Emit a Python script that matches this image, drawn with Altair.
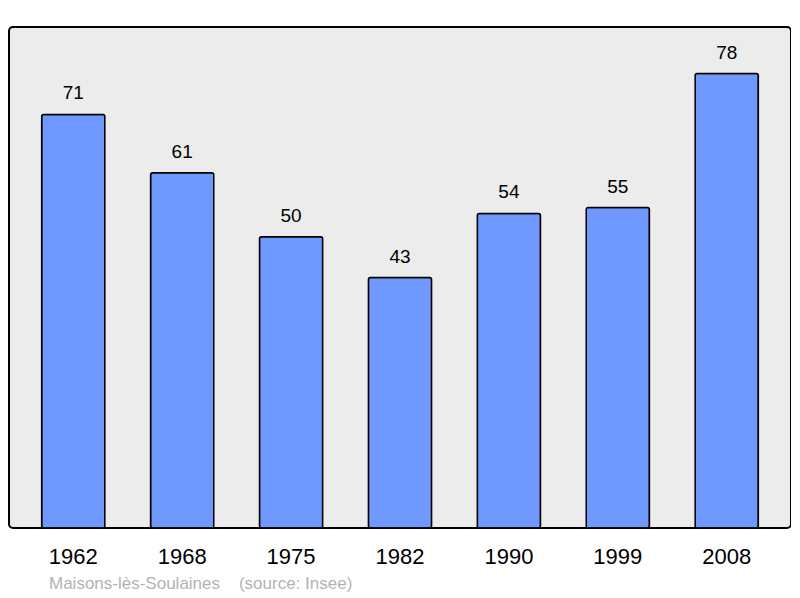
import altair as alt
import pandas as pd

years = ["1962", "1968", "1975", "1982", "1990", "1999", "2008"]
population = [71, 61, 50, 43, 54, 55, 78]

df = pd.DataFrame({"year": years, "pop": population})

FONT = "Liberation Sans"

base = alt.Chart(df).encode(
    x=alt.X(
        "year:N",
        sort=years,
        title=None,
        scale=alt.Scale(paddingInner=0.42, paddingOuter=0.3),
        axis=alt.Axis(
            labelAngle=0,
            labelFontSize=22,
            labelFont=FONT,
            labelColor="black",
            labelPadding=18,
            ticks=False,
            domain=False,
        ),
    ),
    y=alt.Y(
        "pop:Q",
        title=None,
        scale=alt.Scale(domain=[0, 86], nice=False),
        axis=None,
    ),
)

bars = base.mark_bar(
    color="#7099ff",
    stroke="black",
    strokeWidth=1.5,
    cornerRadius=2,
)

labels = base.mark_text(
    dy=-15,
    baseline="alphabetic",
    fontSize=19,
    font=FONT,
    color="black",
).encode(text="pop:Q")

chart = (
    alt.layer(bars, labels)
    .properties(
        width=782,
        height=501,
        background="white",
        autosize=alt.AutoSizeParams(type="none"),
        padding={"left": 1, "top": 19, "right": 0, "bottom": 68},
        title=alt.TitleParams(
            text="Maisons-lès-Soulaines\u00a0\u00a0\u00a0\u00a0(source: Insee)",
            orient="bottom",
            anchor="start",
            fontSize=17,
            font=FONT,
            fontWeight="normal",
            color="#b3b3b3",
            dx=40,
            offset=9,
        ),
    )
    .configure_view(
        fill="#ececec",
        stroke="black",
        strokeWidth=2,
        cornerRadius=4,
    )
)

chart.save("out.html", embed_options={"renderer": "svg", "actions": False})
